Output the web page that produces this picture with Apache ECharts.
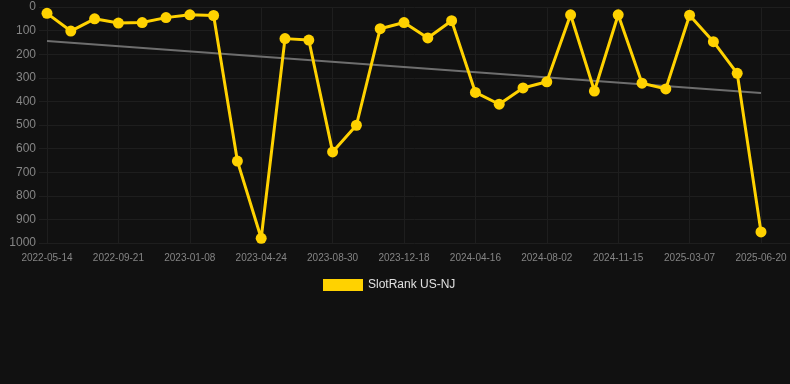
<!DOCTYPE html>
<html>
<head>
<meta charset="utf-8">
<script src="https://cdn.jsdelivr.net/npm/echarts@6/dist/echarts.min.js"></script>
<style>
html,body{margin:0;padding:0;background:#111111;}
#c{width:790px;height:384px;}
</style>
</head>
<body>
<div id="c"></div>
<script>
var categories = [
  '2022-05-14','2022-06-26','2022-08-08','2022-09-21','2022-10-27','2022-12-02',
  '2023-01-08','2023-02-12','2023-03-19','2023-04-24','2023-06-05','2023-07-18',
  '2023-08-30','2023-10-06','2023-11-12','2023-12-18','2024-01-27','2024-03-07',
  '2024-04-16','2024-05-22','2024-06-27','2024-08-02','2024-09-06','2024-10-11',
  '2024-11-15','2024-12-22','2025-01-28','2025-03-07','2025-04-11','2025-05-16',
  '2025-06-20'
];
var rankValues = [
  27, 102, 50, 68, 66, 45, 33, 36, 653, 980, 134, 140,
  614, 501, 92, 66, 131, 58, 362, 412, 343, 317, 33, 356,
  33, 323, 347, 35, 147, 281, 953
];
var trendEnds = [144, 364];
var yTicks = [0, 1000, 100];
var seriesName = 'SlotRank US-NJ';

var trendData = categories.map(function (c, i) {
  if (i === 0) return trendEnds[0];
  if (i === categories.length - 1) return trendEnds[1];
  return null;
});

var gridColor = '#1e1e1e';
var labelColor = '#858585';
var yellow = '#FFD200';

var chart = echarts.init(document.getElementById('c'), null, {renderer: 'canvas'});
chart.setOption({
  backgroundColor: '#111111',
  animation: false,
  legend: {
    data: [seriesName],
    top: 274,
    left: 318,
    icon: 'rect',
    itemWidth: 40,
    itemHeight: 12,
    itemGap: 10,
    textStyle: {color: '#e0e0e0', fontSize: 12, fontFamily: 'Liberation Sans, Arial, sans-serif'}
  },
  grid: [
    {left: 39, right: 0, top: 7, bottom: 141, containLabel: false},
    {left: 47, right: 29, top: 7, bottom: 141, containLabel: false}
  ],
  xAxis: [
    {gridIndex: 0, type: 'value', min: 0, max: 1, show: false},
    {
      gridIndex: 1, type: 'category', data: categories, boundaryGap: false,
      axisLine: {show: false},
      axisTick: {show: true, interval: 2, length: 8, lineStyle: {color: gridColor}},
      splitLine: {show: true, interval: 2, lineStyle: {color: gridColor, width: 1}},
      axisLabel: {interval: 2, color: labelColor, fontSize: 10, margin: 10,
        fontFamily: 'Liberation Sans, Arial, sans-serif'}
    }
  ],
  yAxis: [
    {
      gridIndex: 0, type: 'value', inverse: true, min: yTicks[0], max: yTicks[1], interval: yTicks[2],
      axisLine: {show: false}, axisTick: {show: false},
      splitLine: {show: true, lineStyle: {color: gridColor, width: 1}},
      axisLabel: {color: labelColor, fontSize: 12, margin: 3,
        formatter: function (v) { return String(v); },
        fontFamily: 'Liberation Sans, Arial, sans-serif'}
    },
    {
      gridIndex: 1, type: 'value', inverse: true, min: yTicks[0], max: yTicks[1], interval: yTicks[2],
      show: false, splitLine: {show: false}
    }
  ],
  series: [
    {
      name: 'trend', type: 'line', xAxisIndex: 1, yAxisIndex: 1,
      data: trendData, connectNulls: true, symbol: 'none',
      lineStyle: {color: '#6e6e6e', width: 2}, z: 2, silent: true
    },
    {
      name: seriesName, type: 'line', xAxisIndex: 1, yAxisIndex: 1,
      data: rankValues, symbol: 'circle', symbolSize: 11,
      itemStyle: {color: yellow}, lineStyle: {color: yellow, width: 3}, z: 3
    }
  ]
});
</script>
</body>
</html>
